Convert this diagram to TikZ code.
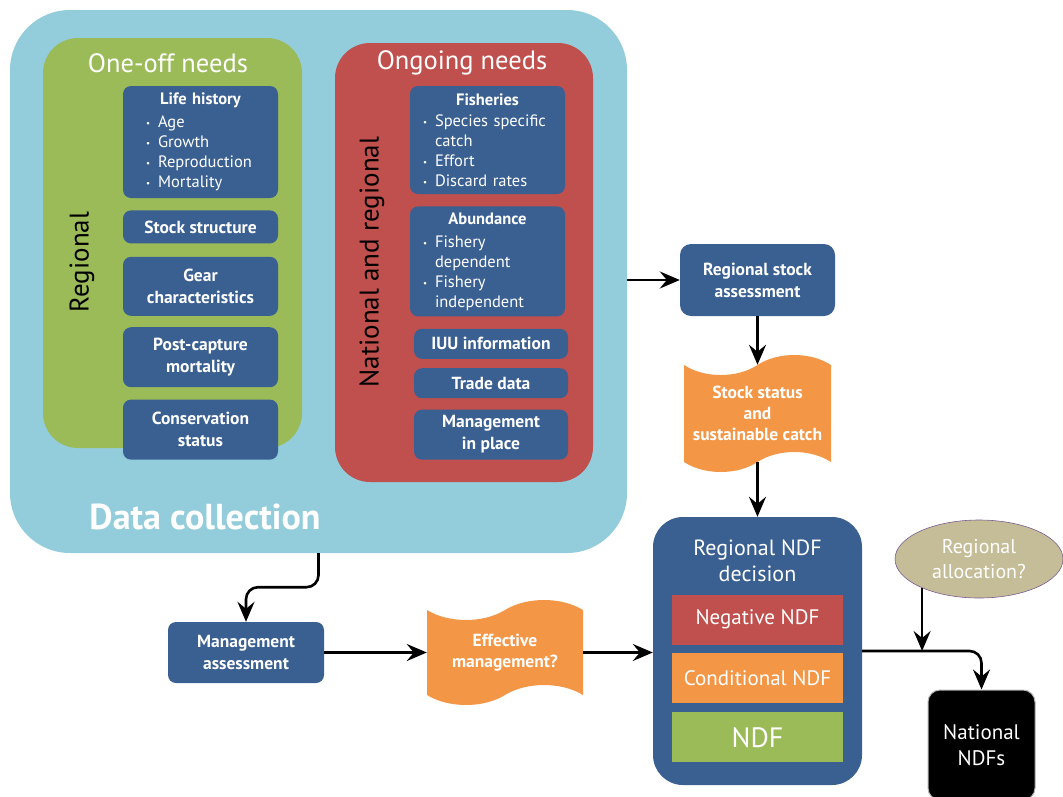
\documentclass[tikz,border=0pt]{standalone}
\usepackage{fontspec}
\setmainfont{PT Sans}
\usetikzlibrary{positioning,shapes.geometric,shapes.symbols,arrows.meta}

\definecolor{ndfblue}{HTML}{3A6092}
\definecolor{aqua}{HTML}{93CDDC}
\definecolor{leaf}{HTML}{9BBB59}
\definecolor{brick}{HTML}{C0504D}
\definecolor{amber}{HTML}{F39646}
\definecolor{sand}{HTML}{C4BD97}
\definecolor{plum}{HTML}{7A5C91}

% bullet and blank indent for the data lists
\newcommand{\bul}{\makebox[12pt][l]{\raisebox{1pt}{\fontsize{9}{9}\selectfont\textbullet}}}
\newcommand{\nobul}{\hspace*{12pt}}

\begin{document}
\begin{tikzpicture}[x=1pt, y=-1pt,
  font=\fontsize{16}{20}\selectfont,
  panel/.style={rounded corners=35pt, inner sep=0pt},
  item/.style={fill=ndfblue, rounded corners=8pt, text=white, align=center, inner sep=2pt,
    minimum width=155pt, font=\bfseries\fontsize{17.5}{22}\selectfont},
  listbox/.style={item, align=left, font=\fontsize{16.5}{20}\selectfont},
  head/.style={text=white, font=\fontsize{26.5}{30}\selectfont},
  side/.style={rotate=90, font=\fontsize{27}{30}\selectfont},
  flag/.style={tape, fill=amber, text=white, align=center, inner sep=2pt,
    tape bend height=20pt, font=\bfseries\fontsize{17.5}{21}\selectfont},
  verdict/.style={fill=#1, text=white, minimum width=171pt, minimum height=50pt,
    font=\fontsize{21}{24}\selectfont},
  arr/.style={-{Stealth[length=20pt,width=17pt,inset=7pt]}, line width=2.6pt}
]
\useasboundingbox (0,0) rectangle (1063,796);

% data collection panels
\node[panel, fill=aqua, rounded corners=60pt, minimum width=617pt, minimum height=543pt] (datacol) at (318.5,281.5) {};
\node[panel, fill=leaf, minimum width=259pt, minimum height=410pt] (oneoff) at (172.5,243) {};
\node[panel, fill=brick, minimum width=258pt, minimum height=439pt] (ongoing) at (464,262.5) {};

\node[head] (oneofftitle) at (168,63) {One-off needs};
\node[head] (ongoingtitle) at (462,63) {Ongoing needs};
\node[side] (regional) at (82,262) {Regional};
\node[side] (natreg) at (372,262) {National and regional};
\node[text=white, font=\bfseries\fontsize{36}{40}\selectfont] (dctitle) at (205,517) {Data collection};

% one-off needs
\node[listbox, inner xsep=23pt, text width=109pt, minimum height=112pt] (life) at (200.5,142)
  {\makebox[\linewidth]{\bfseries Life history}\\[3pt]
   \bul Age\\ \bul Growth\\ \bul Reproduction\\ \bul Mortality};
\node[item, minimum height=33pt, below=12pt of life] (stock) {Stock structure};
\node[item, minimum height=59pt, below=13pt of stock] (gear) {Gear\\characteristics};
\node[item, minimum height=60pt, below=11pt of gear] (postcap) {Post-capture\\mortality};
\node[item, minimum height=60pt, below=12pt of postcap] (conserv) {Conservation\\status};

% ongoing needs
\node[listbox, inner xsep=13pt, text width=129pt, minimum height=108pt] (fish) at (487.5,140)
  {\makebox[\linewidth]{\bfseries Fisheries}\\[1pt]
   \bul Species specific\\ \nobul catch\\ \bul Effort\\ \bul Discard rates};
\node[listbox, inner xsep=13pt, text width=129pt, minimum height=110pt, below=12pt of fish] (abund)
  {\makebox[\linewidth]{\bfseries Abundance}\\[3pt]
   \bul Fishery\\ \nobul dependent\\ \bul Fishery\\ \nobul independent};
\node[item, minimum width=154pt, minimum height=30pt, below=12pt of abund, xshift=3.5pt] (iuu) {IUU information};
\node[item, minimum width=154pt, minimum height=30pt, below=9pt of iuu] (trade) {Trade data};
\node[item, minimum width=154pt, minimum height=50pt, below=11pt of trade] (mgmt) {Management\\in place};

% assessment and decision chain
\node[item, minimum height=72pt, rounded corners=11pt] (rsa) at (757.5,280) {Regional stock\\assessment};
\node[flag, minimum width=147pt, minimum height=117pt] (status) at (757.5,413.5) {Stock status\\and\\sustainable catch};
\node[panel, fill=ndfblue, rounded corners=30pt, minimum width=209pt, minimum height=268pt] (ndfdec) at (757.5,651) {};
\node[text=white, align=center, font=\fontsize{22}{26}\selectfont] (ndftitle) at (757.5,561) {Regional NDF\\decision};
\node[verdict=brick] (neg) at (757.5,619.5) {Negative NDF};
\node[verdict=amber, below=8pt of neg] (cond) {Conditional NDF};
\node[verdict=leaf, font=\fontsize{28}{30}\selectfont, below=9pt of cond] (ndf) {NDF};

\node[item, minimum width=156pt, minimum height=61pt] (mgmtass) at (246,652.5) {Management\\assessment};
\node[flag, minimum width=156pt, minimum height=105pt] (effmgmt) at (505,652.5) {Effective\\management?};
\node[ellipse, fill=sand, draw=plum, line width=0.6pt, minimum width=168pt, minimum height=78pt,
  text=white, align=center, font=\fontsize{20}{25}\selectfont] (alloc) at (979,559) {Regional\\allocation?};
\node[fill=black, draw=gray!60, line width=1pt, rounded corners=12pt, minimum width=107pt, minimum height=110pt,
  text=white, align=center, font=\fontsize{21}{26}\selectfont] (natndf) at (981.5,745) {National\\NDFs};

% connectors
\draw[arr] (datacol.east |- rsa.west) -- (rsa.west);
\draw[arr] (rsa) -- (status);
\draw[arr] (status) -- (ndfdec);
\draw[arr, rounded corners=12pt] (datacol.south) -- ++(0,34) -| (mgmtass.north);
\draw[arr] (mgmtass) -- (effmgmt);
\draw[arr] (effmgmt.east) -- (effmgmt.east -| ndfdec.west);
\draw[arr, rounded corners=12pt] (ndfdec.east) -| (natndf.north);
\draw[arr] (alloc.207) -- (alloc.207 |- ndfdec.east);
\end{tikzpicture}
\end{document}
